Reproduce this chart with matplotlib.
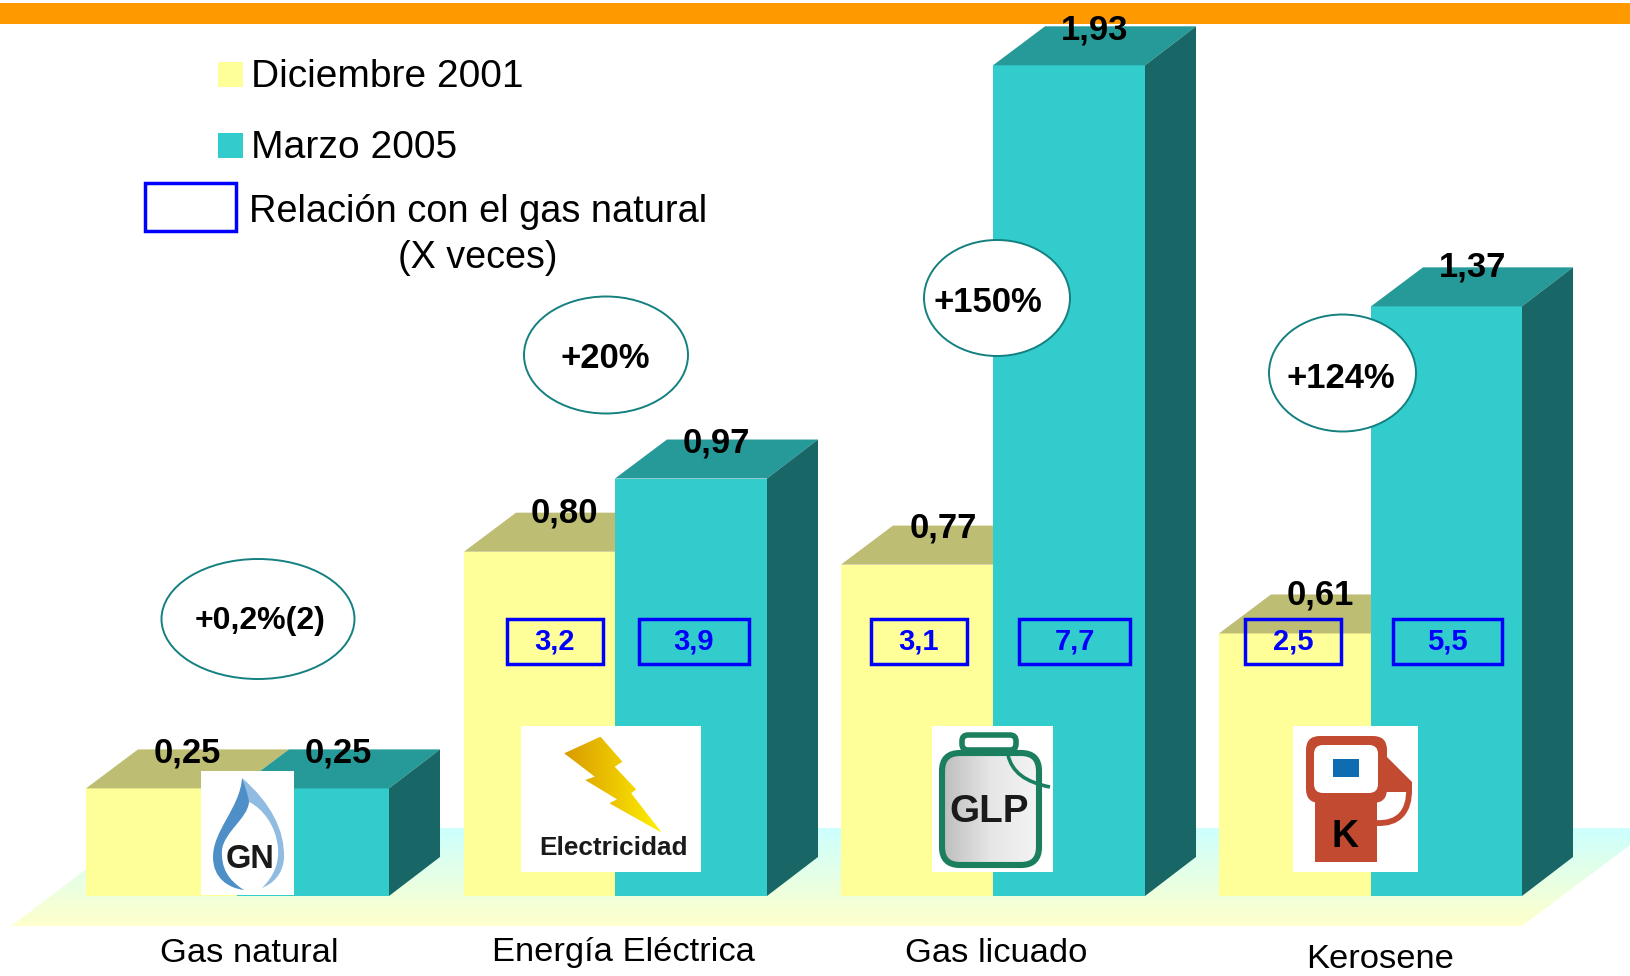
import numpy as np
import matplotlib
matplotlib.use("Agg")
import matplotlib.pyplot as plt
from matplotlib.patches import Polygon, Rectangle, Ellipse, FancyBboxPatch, PathPatch
from matplotlib.path import Path
from matplotlib.transforms import Affine2D
from matplotlib.colors import LinearSegmentedColormap

plt.rcParams['font.family'] = ['Liberation Sans', 'DejaVu Sans']

categories = ["Gas natural", "Energía Eléctrica", "Gas licuado", "Kerosene"]
dic_2001 = [0.25, 0.80, 0.77, 0.61]
mar_2005 = [0.25, 0.97, 1.93, 1.37]
ratio_dic = [None, "3,2", "3,1", "2,5"]
ratio_mar = [None, "3,9", "7,7", "5,5"]
changes = ["+0,2%(2)", "+20%", "+150%", "+124%"]
legend_labels = ["Diciembre 2001", "Marzo 2005", "Relación con el gas natural", "(X veces)"]

YEL, YEL_TOP = "#FFFF99", "#BDBD73"
TEAL, TEAL_TOP, TEAL_SIDE = "#33CCCC", "#269999", "#196666"
BLUE, RING = "#0000FF", "#148080"

W, H = 1630, 976
fig = plt.figure(figsize=(W / 100, H / 100), dpi=100, facecolor="white")
ax = fig.add_axes([0, 0, 1, 1])
ax.axis("off")
px = Affine2D().scale(1, -1).translate(0, H)   # layout helper: figure pixels, y down

BASE, UNIT = 896, 430.4
DX, DY = 52, 39 / UNIT
def val(py):
    return (BASE - py) / UNIT

# background band
ax.add_patch(Rectangle((0, 3), W, 21, fc="#FF9900", ec="none", transform=px, zorder=1))

# floor with vertical gradient
cm = LinearSegmentedColormap.from_list("floor", ["#CCFFFF", "#FFFFCC"])
im = ax.imshow(np.linspace(0, 1, 128).reshape(-1, 1), cmap=cm, aspect="auto", origin="upper",
               extent=(0, W, val(926), val(828)), zorder=2)
floor = Polygon([(11, 926), (1522, 926), (1653, 828), (141, 828)], transform=px, fc="none", ec="none")
ax.add_patch(floor)
im.set_clip_path(floor)

# bars
lefts = [86, 464, 841, 1219]
mids = [237, 615, 993, 1371]
rights = [389, 767, 1145, 1522]
for l, m, r, a, b in zip(lefts, mids, rights, dic_2001, mar_2005):
    ax.bar(l, a, width=m - l, align="edge", color=YEL, zorder=3)
    ax.add_patch(Polygon([(l, a), (l + DX, a + DY), (m + DX, a + DY), (m, a)], fc=YEL_TOP, ec="none", zorder=3))
    ax.bar(m, b, width=r - m, align="edge", color=TEAL, zorder=4)
    ax.add_patch(Polygon([(m, b), (m + DX, b + DY), (r + DX - 1, b + DY), (r, b)], fc=TEAL_TOP, ec="none", zorder=4))
    ax.add_patch(Polygon([(r, 0), (r + DX - 1, DY), (r + DX - 1, b + DY), (r, b)], fc=TEAL_SIDE, ec="none", zorder=4))

ax.set_xlim(0, W)
ax.set_ylim(val(H), val(0))

def T(x, y, s, size, **kw):
    kw.setdefault("ha", "center")
    kw.setdefault("va", "center")
    kw.setdefault("color", "black")
    return ax.text(x, y + 3, s, fontsize=size, transform=px, zorder=kw.pop("zorder", 9), **kw)

# white icon backgrounds
icon_boxes = [(201, 771, 93, 124), (521, 726, 180, 146), (932, 726, 121, 146), (1293, 726, 125, 146)]
for x, y, w, h in icon_boxes:
    ax.add_patch(Rectangle((x, y), w, h, fc="white", ec="none", transform=px, zorder=5))

def grad(colors, box, clip, horizontal=True):
    c = LinearSegmentedColormap.from_list("g", colors)
    arr = np.linspace(0, 1, 128).reshape(1, -1) if horizontal else np.linspace(0, 1, 128).reshape(-1, 1)
    x0, y0, x1, y1 = box
    i = ax.imshow(arr, cmap=c, aspect="auto", origin="upper", extent=(x0, x1, val(y1), val(y0)), zorder=6)
    i.set_clip_path(clip)
    ax.set_xlim(0, W)
    ax.set_ylim(val(H), val(0))

# GN icon
C, L, M = Path.CURVE4, Path.LINETO, Path.MOVETO
left_flame = Path([(242, 778), (240, 808), (213, 830), (213, 857), (213, 878), (228, 888), (244, 890),
                   (228, 880), (221, 868), (222, 850), (224, 832), (248, 818), (249, 802), (250, 795), (246, 785), (242, 778)],
                  [M, C, C, C, C, C, C, C, C, C, C, C, C, C, C, C])
ax.add_patch(PathPatch(left_flame, fc="#4F8FC8", ec="none", transform=px, zorder=6))
right_flame = Path([(242, 778), (270, 802), (285, 830), (284, 858), (283, 875), (272, 884), (262, 888),
                    (275, 875), (279, 862), (278, 848), (276, 825), (262, 808), (249, 802), (248, 795), (245, 786), (242, 778)],
                   [M, C, C, C, C, C, C, C, C, C, C, C, C, C, C, C])
ax.add_patch(PathPatch(right_flame, fc="#8FBCE0", ec="none", transform=px, zorder=6))
ax.add_patch(Ellipse((250, 857), 52, 30, fc="white", ec="none", transform=px, zorder=6))
T(250, 856, "GN", 23.5, fontweight="bold", color="#1A1A1A", zorder=7)

# Electricity icon
bolt_x = [600.5, 622.4, 614.7, 636.1, 631.2, 661.8, 609.4, 617.0, 585.2, 594.8, 564.2]
bolt_y = [736.7, 761.7, 766.7, 789.3, 793.3, 832.7, 803.3, 799.3, 780.0, 776.7, 753.3]
bolt = Polygon(list(zip(bolt_x, bolt_y)), fc="none", ec="none", transform=px, zorder=6)
ax.add_patch(bolt)
grad(["#D99A00", "#FFF000"], (564, 737, 662, 833), bolt)
T(613.6, 845, "Electricidad", 18.8, fontweight="bold", color="#1A1A1A", zorder=7)

# GLP icon
GREEN = "#1B7F5F"
ax.add_patch(FancyBboxPatch((962, 735), 54, 15, boxstyle="round,pad=0,rounding_size=6", fc="white",
                            ec=GREEN, lw=4, transform=px, zorder=6))
jug = FancyBboxPatch((942, 753), 97, 112, boxstyle="round,pad=0,rounding_size=18", fc="none", ec="none",
                     transform=px, zorder=6)
ax.add_patch(jug)
grad(["#BDBDBD", "#E6E6E6", "#F4F4F4"], (942, 753, 1039, 865), jug)
ax.add_patch(FancyBboxPatch((942, 753), 97, 112, boxstyle="round,pad=0,rounding_size=18", fc="none",
                            ec=GREEN, lw=4.4, transform=px, zorder=7))
ax.add_patch(PathPatch(Path([(1008, 755), (1012, 772), (1025, 782), (1050, 787)], [M, C, C, C]), fc="none",
                       ec=GREEN, lw=2.6, transform=px, zorder=7))
T(989, 809, "GLP", 27.8, fontweight="bold", color="#1A1A1A", zorder=8)

# Kerosene icon
RED = "#C24A30"
ax.add_patch(FancyBboxPatch((1306, 736), 81, 67, boxstyle="round,pad=0,rounding_size=14", fc=RED, ec="none",
                            transform=px, zorder=6))
ax.add_patch(FancyBboxPatch((1314, 745), 64, 48, boxstyle="round,pad=0,rounding_size=9", fc="white", ec="none",
                            transform=px, zorder=6))
ax.add_patch(Rectangle((1315, 793), 62, 69, fc=RED, ec="none", transform=px, zorder=6))
ax.add_patch(Rectangle((1333, 759), 26, 18, fc="#0E6DB0", ec="none", transform=px, zorder=7))
ax.add_patch(Polygon([(1387, 757), (1412, 782), (1412, 792), (1385, 792)], fc=RED, ec="none", transform=px, zorder=6))
ax.add_patch(PathPatch(Path([(1409, 788), (1410, 812), (1398, 824), (1377, 823)], [M, C, C, C]), fc="none",
                       ec=RED, lw=4.2, transform=px, zorder=6))
T(1345, 834, "K", 27, fontweight="bold", zorder=8)

# ratio boxes
box_x = [None, (507, 603, 639, 749), (871, 967, 1019, 1130), (1245, 1341, 1393, 1502)]
for xs, a, b in zip(box_x, ratio_dic, ratio_mar):
    if xs is None:
        continue
    for x0, x1, s in ((xs[0], xs[1], a), (xs[2], xs[3], b)):
        ax.add_patch(Rectangle((x0, 619), x1 - x0, 45, fc="none", ec=BLUE, lw=2.5, transform=px, zorder=8))
        T((x0 + x1) / 2, 638, s, 21, fontweight="bold", color=BLUE)

# change ellipses
ell = [(258, 619, 193, 120), (606, 355, 164, 117), (997, 298, 146, 116), (1342.5, 373, 147, 117)]
txt = [(260, 618, 23.0), (605, 355, 24.9), (988, 299, 24.9), (1341, 375, 24.9)]
for (x, y, w, h), s, (tx, ty, fs) in zip(ell, changes, txt):
    ax.add_patch(Ellipse((x, y), w, h, fc="white", ec=RING, lw=1.4, transform=px, zorder=8))
    T(tx, ty, s, fs, fontweight="bold")

# bar value labels
lab_dic = [(187, 750), (564, 510), (943, 525), (1320, 592)]
lab_mar = [(338, 750), (716, 440), (1095, 27), (1473, 264)]
for (x, y), v in zip(lab_dic, dic_2001):
    T(x, y, f"{v:.2f}".replace(".", ","), 24.9, fontweight="bold")
for (x, y), v in zip(lab_mar, mar_2005):
    T(x, y, f"{v:.2f}".replace(".", ","), 24.9, fontweight="bold")

# category labels
for (x, y), c in zip([(249.5, 950), (623, 950), (996, 950), (1380.5, 956)], categories):
    T(x, y, c, 24.8)

# legend
ax.add_patch(Rectangle((218, 62), 25, 25, fc=YEL, ec="none", transform=px, zorder=8))
ax.add_patch(Rectangle((218, 133), 25, 25, fc=TEAL, ec="none", transform=px, zorder=8))
ax.add_patch(Rectangle((145, 183), 91, 48, fc="white", ec=BLUE, lw=2.5, transform=px, zorder=8))
T(251, 74, legend_labels[0], 28.0, ha="left")
T(251, 145, legend_labels[1], 28.1, ha="left")
T(478, 209, legend_labels[2], 27.4)
T(478, 255, legend_labels[3], 27.2)

fig.savefig("out.png", dpi=100)
